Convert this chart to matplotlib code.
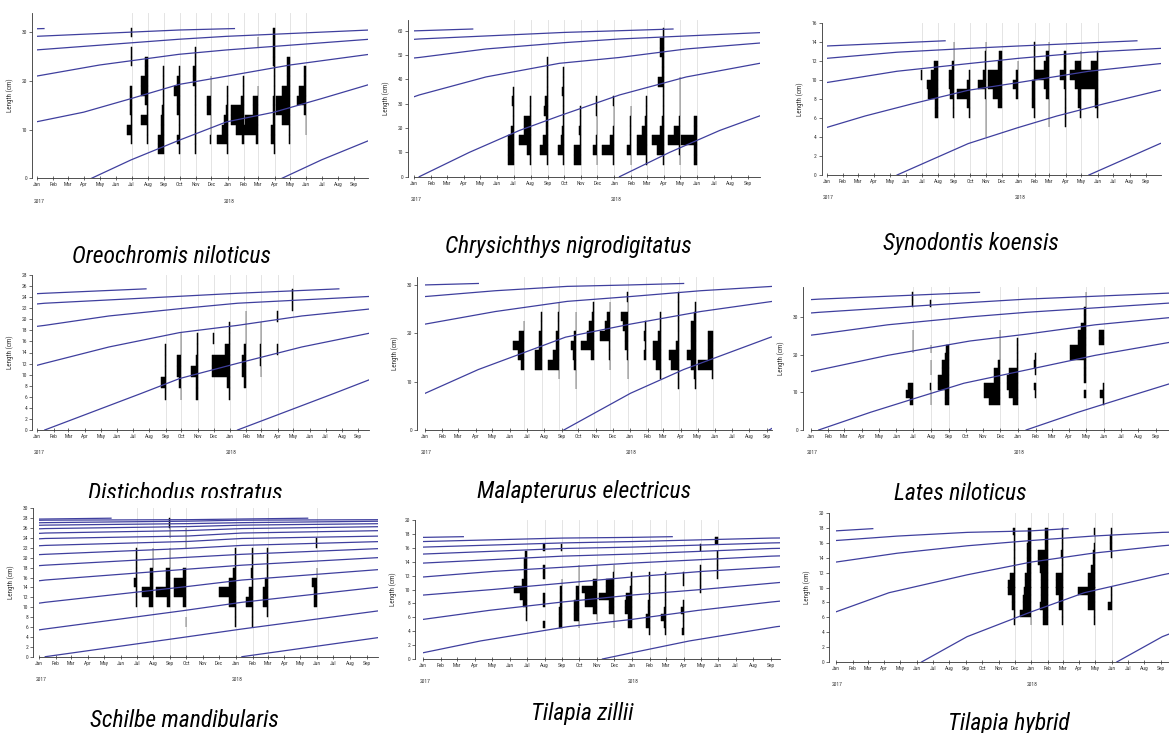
import numpy as np
import matplotlib
matplotlib.use("Agg")
import matplotlib.pyplot as plt
import matplotlib.dates as mdates
from matplotlib import font_manager
from matplotlib.patches import Rectangle

W, H = 1169, 733

# ---------------- Oreochromis niloticus ----------------
oreo_dates = ['2017-07-01', '2017-08-01', '2017-09-01', '2017-10-01', '2017-11-01', '2017-12-01',
              '2018-01-01', '2018-02-01', '2018-03-01', '2018-04-01', '2018-05-01', '2018-06-01']
oreo_mids = [6, 8, 10, 12, 14, 16, 18, 20, 22, 24, 26, 28, 30]
oreo_freq = [[0, 1, 8, 1, 3, 3, 3, 0, 0, 1, 1, 0, 1],
             [0, 1, 1, 14, 1, 6, 14, 14, 6, 6, 0, 0, 0],
             [12, 12, 6, 5, 3, 1, 1, 1, 1, 0, 0, 0, 0],
             [1, 5, 1, 1, 5, 5, 10, 5, 1, 0, 0, 0, 0],
             [1, 1, 1, 1, 1, 2, 2, 6, 6, 1, 1, 0, 0],
             [0, 3, 1, 1, 8, 8, 1, 1, 0, 0, 0, 0, 0],
             [1, 21, 11, 6, 3, 1, 1, 0, 0, 0, 0, 0, 0],
             [0, 3, 15, 24, 24, 5, 1, 1, 0, 0, 0, 0, 0],
             [0, 5, 27, 26, 10, 10, 1, 0, 0, 0, 0, 1, 0],
             [1, 6, 6, 3, 3, 3, 1, 1, 1, 3, 3, 3, 2],
             [0, 3, 3, 16, 27, 27, 16, 6, 6, 6, 0, 0, 0],
             [0, 0, 1, 1, 5, 17, 15, 5, 5, 0, 0, 0, 0]]
oreo_birth = '2017-04-15'
oreo_age = [0, 2.5, 5.5, 8.5, 11.5, 14.5, 17.5, 20.5, 24.5, 29.5, 32.5, 41.5, 44.5, 53.5, 57]
oreo_len = [0, 3.8, 7.8, 11.6, 13.6, 16.4, 19.3, 21.0, 23.3, 25.5, 26.4, 28.6, 29.2, 30.5, 30.8]
oreo_yticks = [0, 10, 20, 30]

# ---------------- Chrysichthys nigrodigitatus ----------------
chry_dates = ['2017-07-01', '2017-08-01', '2017-09-01', '2017-10-01', '2017-11-01', '2017-12-01',
              '2018-01-01', '2018-02-01', '2018-03-01', '2018-04-01', '2018-05-01', '2018-06-01']
chry_mids = [7, 11, 15, 19, 23, 27, 31, 35, 39, 43, 47, 51, 55, 59]
chry_freq = [[11, 11, 11, 4, 1, 1, 3, 1, 0, 0, 0, 0, 0, 0],
             [1, 6, 21, 12, 12, 1, 1, 0, 0, 0, 0, 0, 0, 0],
             [1, 13, 8, 3, 3, 7, 4, 1, 1, 1, 1, 0, 0, 0],
             [1, 11, 6, 3, 1, 1, 1, 3, 1, 1, 0, 0, 0, 0],
             [13, 13, 1, 3, 1, 1, 0, 0, 0, 0, 0, 0, 0, 0],
             [1, 9, 3, 1, 1, 3, 3, 0, 0, 0, 0, 0, 0, 0],
             [3, 23, 8, 3, 1, 1, 2, 0, 0, 0, 0, 0, 0, 0],
             [1, 9, 3, 3, 3, 1, 0, 0, 0, 0, 0, 0, 0, 0],
             [1, 17, 17, 8, 3, 1, 1, 0, 0, 0, 0, 0, 0, 0],
             [1, 13, 21, 7, 3, 1, 1, 1, 10, 4, 4, 7, 7, 1],
             [1, 3, 23, 11, 3, 1, 1, 1, 1, 0, 0, 0, 0, 0],
             [6, 6, 30, 6, 6, 0, 0, 0, 0, 0, 0, 0, 0, 0]]
chry_birth = '2017-01-10'
chry_age = [0, 3, 6, 8.4, 12, 16, 20.4, 24, 28, 32.7, 36, 44.7, 48, 51.2]
chry_len = [0, 10, 19, 25, 33.6, 41, 46.6, 49.0, 52.5, 55.1, 56.6, 59.3, 60.0, 60.7]
chry_yticks = [0, 10, 20, 30, 40, 50, 60]

# ---------------- Synodontis koensis ----------------
syno_dates = ['2017-07-01', '2017-08-01', '2017-09-01', '2017-10-01', '2017-11-01', '2017-12-01',
              '2018-01-01', '2018-02-01', '2018-03-01', '2018-04-01', '2018-05-01', '2018-06-01']
syno_mids = [4.5, 5.5, 6.5, 7.5, 8.5, 9.5, 10.5, 11.5, 12.5, 13.5]
syno_freq = [[0, 0, 0, 0, 0, 0, 1, 0, 0, 0],
             [0, 0, 5, 6, 19, 21, 13, 8, 0, 0],
             [0, 0, 2, 2, 8, 11, 11, 5, 1, 1],
             [0, 0, 2, 6, 25, 6, 2, 0, 0, 0],
             [1, 1, 1, 1, 3, 16, 6, 3, 3, 1],
             [0, 0, 0, 8, 18, 27, 27, 8, 5, 0],
             [0, 0, 0, 0, 5, 11, 5, 1, 0, 0],
             [0, 0, 1, 5, 5, 5, 1, 1, 1, 1],
             [0, 1, 1, 1, 6, 10, 27, 10, 6, 1],
             [0, 1, 1, 1, 1, 4, 11, 4, 4, 0],
             [0, 0, 3, 6, 6, 13, 22, 13, 1, 0],
             [0, 0, 1, 6, 6, 32, 32, 13, 1, 0]]
syno_birth = '2017-05-15'
syno_age = [0, 4.45, 7.55, 10, 13, 16.45, 19.55, 24, 28.45, 31.55, 36, 40.45, 43.55, 51]
syno_len = [0, 3.3, 4.97, 6.2, 7.5, 8.9, 9.7, 10.9, 11.7, 12.25, 12.9, 13.3, 13.55, 14.1]
syno_yticks = list(range(0, 17, 2))

# ---------------- Distichodus rostratus ----------------
dist_dates = ['2017-09-01', '2017-10-01', '2017-11-01', '2017-12-01', '2018-01-01',
              '2018-02-01', '2018-03-01', '2018-04-01', '2018-05-01']
dist_mids = [6.5, 8.5, 10.5, 12.5, 14.5, 16.5, 18.5, 20.5, 22.5, 24.5]
dist_freq = [[1, 8, 2, 2, 1, 0, 0, 0, 0, 0],
             [1, 5, 9, 9, 1, 1, 0, 0, 0, 0],
             [4, 4, 13, 3, 1, 1, 0, 0, 0, 0],
             [0, 0, 0, 0, 0, 1, 0, 0, 0, 0],
             [1, 6, 35, 35, 9, 1, 1, 0, 0, 0],
             [0, 4, 9, 9, 4, 1, 1, 1, 0, 0],
             [0, 0, 1, 3, 3, 1, 1, 0, 0, 0],
             [0, 0, 0, 0, 1, 0, 0, 1, 0, 0],
             [0, 0, 0, 0, 0, 0, 0, 0, 2, 2]]
dist_birth = '2017-01-15'
dist_age = [0, 3, 6, 8.4, 12, 16, 20.4, 24, 28, 32.7, 36, 44.7, 48, 54.3]
dist_len = [0, 3.3, 6.6, 9.3, 12.05, 15.0, 17.6, 18.9, 20.6, 22.0, 22.9, 24.2, 24.7, 25.5]
dist_yticks = list(range(0, 29, 2))

# ---------------- Malapterurus electricus ----------------
mala_dates = ['2017-06-27', '2017-07-28', '2017-08-28', '2017-09-27', '2017-10-28', '2017-11-27',
              '2017-12-29', '2018-01-29', '2018-02-25', '2018-03-29', '2018-04-28', '2018-05-29']
mala_mids = [9.5, 11.5, 13.5, 15.5, 17.5, 19.5, 21.5, 23.5, 25.5, 27.5]
mala_freq = [[0, 0, 7, 12, 21, 9, 1, 0, 0, 0],
             [0, 0, 12, 12, 6, 6, 1, 1, 0, 0],
             [0, 1, 21, 12, 6, 6, 2, 2, 1, 0],
             [1, 1, 3, 6, 9, 3, 1, 1, 0, 0],
             [0, 0, 0, 5, 22, 11, 8, 3, 1, 0],
             [0, 0, 1, 3, 3, 18, 9, 6, 1, 0],
             [0, 1, 1, 3, 6, 6, 9, 14, 1, 3],
             [0, 0, 0, 3, 1, 3, 1, 0, 0, 0],
             [0, 1, 9, 15, 15, 6, 1, 1, 0, 0],
             [1, 1, 15, 18, 6, 1, 1, 1, 1, 1],
             [1, 3, 9, 15, 9, 9, 9, 3, 1, 0],
             [0, 3, 28, 9, 9, 9, 0, 0, 0, 0]]
mala_birth = '2017-09-05'
mala_age = [0, 3.9, 7, 12.1, 15.9, 20, 24.2, 27.9, 32, 36.2, 39.9, 43]
mala_len = [0, 7.6, 12.5, 19.2, 21.9, 24.5, 26.6, 27.6, 28.8, 29.7, 30.0, 30.3]
mala_yticks = [0, 10, 20, 30]

# ---------------- Lates niloticus ----------------
lates_dates = ['2017-07-01', '2017-08-01', '2017-09-01', '2017-12-01',
               '2018-01-01', '2018-02-01', '2018-05-01', '2018-06-01']
lates_mids = [7.5, 9.5, 11.5, 13.5, 15.5, 17.5, 19.5, 21.5, 23.5, 25.5, 27.5, 29.5, 31.5, 33.5, 35.5]
lates_freq = [[7, 13, 10, 0, 0, 0, 0, 1, 1, 1, 0, 0, 0, 2, 2],
              [1, 1, 2, 0, 1, 1, 0, 1, 0, 0, 0, 0, 0, 2, 0],
              [7, 7, 19, 19, 12, 12, 7, 4, 0, 0, 0, 0, 0, 0, 0],
              [20, 28, 28, 11, 11, 5, 1, 1, 1, 1, 0, 0, 0, 0, 0],
              [9, 15, 20, 20, 15, 1, 1, 1, 1, 0, 0, 0, 0, 0, 0],
              [0, 1, 2, 0, 1, 2, 1, 0, 0, 0, 0, 0, 0, 0, 0],
              [0, 3, 0, 3, 3, 3, 28, 28, 15, 15, 9, 3, 3, 1, 1],
              [1, 7, 1, 0, 0, 0, 0, 0, 9, 9, 0, 0, 0, 0, 0]]
lates_birth = '2017-01-15'
lates_age = [0, 3, 6, 8.4, 12, 16, 20.75, 24, 28, 32.75, 36, 44.75, 48, 57.3]
lates_len = [0, 4.7, 9.0, 12.4, 15.9, 19.8, 23.6, 25.4, 27.9, 30.0, 31.2, 33.8, 34.7, 36.5]
lates_yticks = [0, 10, 20, 30]

# ---------------- Schilbe mandibularis ----------------
schi_dates = ['2017-07-01', '2017-08-01', '2017-09-01', '2017-10-01',
              '2018-01-01', '2018-02-01', '2018-03-01', '2018-06-01']
schi_mids = [7, 9, 11, 13, 15, 17, 19, 21, 23, 25, 27]
schi_freq = [[0, 0, 1, 1, 5, 1, 1, 1, 0, 0, 0],
             [0, 0, 8, 22, 6, 6, 1, 1, 0, 0, 0],
             [0, 0, 5, 27, 8, 8, 1, 1, 0, 1, 3],
             [1, 0, 6, 22, 22, 6, 0, 0, 1, 1, 0],
             [1, 1, 12, 32, 12, 6, 1, 1, 0, 0, 0],
             [1, 1, 12, 6, 1, 3, 1, 1, 0, 0, 0],
             [0, 1, 9, 9, 5, 1, 1, 1, 0, 0, 0],
             [0, 0, 6, 6, 9, 1, 0, 0, 2, 0, 0]]
schi_birth = '2017-01-12'
schi_age = [0, 8.4, 12, 20.4, 24, 32.7, 36, 44.7, 48, 56.7, 60, 68.7, 72, 80.7, 84, 92.7, 96,
            104.7, 108, 116.7, 120, 128.7, 132, 140.7, 144, 152.7, 160]
schi_len = [0, 3.9, 5.6, 9.3, 11.0, 14.2, 15.5, 17.7, 18.5, 20.1, 20.7, 21.9, 22.5, 23.3, 23.9, 24.4, 25.0,
            25.5, 25.9, 26.3, 26.6, 26.9, 27.1, 27.4, 27.6, 27.7, 28.0]
schi_yticks = list(range(0, 31, 2))

# ---------------- Tilapia zillii ----------------
tzil_dates = ['2017-07-01', '2017-08-01', '2017-09-01', '2017-10-01', '2017-11-01', '2017-12-01',
              '2018-01-01', '2018-02-01', '2018-03-01', '2018-04-01', '2018-05-01', '2018-06-01']
tzil_mids = [4, 5, 6, 7, 8, 9, 10, 11, 12, 13, 14, 15, 16, 17]
tzil_freq = [[0, 0, 1, 1, 6, 12, 23, 9, 5, 5, 5, 3, 0, 0],
             [0, 2, 0, 0, 2, 2, 0, 0, 2, 2, 0, 0, 3, 0],
             [0, 6, 6, 6, 4, 4, 4, 1, 0, 0, 0, 0, 3, 0],
             [0, 1, 9, 9, 9, 6, 6, 1, 1, 1, 0, 0, 0, 0],
             [0, 0, 1, 7, 22, 22, 27, 7, 1, 1, 0, 0, 0, 0],
             [0, 1, 1, 9, 9, 26, 15, 15, 3, 1, 0, 0, 0, 0],
             [0, 7, 7, 13, 13, 10, 3, 1, 1, 0, 0, 0, 0, 0],
             [1, 6, 6, 3, 3, 1, 1, 1, 1, 0, 0, 0, 0, 0],
             [1, 3, 9, 3, 1, 1, 1, 1, 1, 0, 0, 0, 0, 0],
             [2, 1, 1, 4, 1, 0, 0, 1, 1, 0, 0, 0, 0, 0],
             [0, 0, 0, 0, 0, 0, 1, 1, 2, 2, 0, 0, 1, 0],
             [0, 0, 0, 0, 0, 0, 0, 0, 2, 2, 2, 2, 0, 6]]
tzil_birth = '2016-11-10'
tzil_age = [0, 1.7, 5, 10, 13.7, 17.5, 21.7, 25.7, 29.7, 33.7, 37.7, 41.7, 45.7, 49.7, 57.7,
            61.7, 69.7, 73.7, 81.7, 85.7, 93.7, 97.7, 100]
tzil_len = [0, 0.9, 2.6, 4.65, 5.7, 7.0, 8.2, 9.2, 10.0, 10.9, 11.8, 12.6, 13.2, 13.8, 14.8,
            15.1, 15.9, 16.1, 16.7, 16.9, 17.4, 17.5, 17.6]
tzil_yticks = list(range(0, 21, 2))

# ---------------- Tilapia hybrid ----------------
thyb_dates = ['2017-12-01', '2018-01-01', '2018-02-01', '2018-03-01', '2018-05-01', '2018-06-01']
thyb_mids = [5.5, 6.5, 7.5, 8.5, 9.5, 10.5, 11.5, 12.5, 13.5, 14.5, 15.5, 16.5, 17.5]
thyb_freq = [[1, 1, 5, 5, 13, 13, 8, 1, 1, 1, 1, 1, 3],
             [1, 20, 15, 15, 13, 11, 11, 8, 8, 8, 8, 5, 5],
             [8, 8, 15, 12, 12, 12, 12, 15, 19, 19, 5, 5, 5],
             [1, 1, 6, 6, 13, 13, 13, 1, 1, 3, 1, 1, 1],
             [2, 2, 14, 14, 32, 14, 14, 8, 5, 5, 3, 1, 3],
             [0, 0, 7, 1, 1, 0, 0, 0, 0, 1, 3, 3, 1]]
thyb_birth = '2017-06-10'
thyb_age = [0, 2.8, 6.7, 10, 14.8, 18.7, 22.5, 26.8, 30.7, 34.5, 38.8, 42.7, 45]
thyb_len = [0, 3.4, 6.7, 9.3, 11.7, 13.4, 14.6, 15.6, 16.3, 16.9, 17.4, 17.6, 17.9]
thyb_yticks = list(range(0, 21, 2))

species = ['Oreochromis niloticus', 'Chrysichthys nigrodigitatus', 'Synodontis koensis',
           'Distichodus rostratus', 'Malapterurus electricus', 'Lates niloticus',
           'Schilbe mandibularis', 'Tilapia zillii', 'Tilapia hybrid']

panels = [
    (oreo_dates, oreo_mids, oreo_freq, oreo_birth, oreo_age, oreo_len, oreo_yticks),
    (chry_dates, chry_mids, chry_freq, chry_birth, chry_age, chry_len, chry_yticks),
    (syno_dates, syno_mids, syno_freq, syno_birth, syno_age, syno_len, syno_yticks),
    (dist_dates, dist_mids, dist_freq, dist_birth, dist_age, dist_len, dist_yticks),
    (mala_dates, mala_mids, mala_freq, mala_birth, mala_age, mala_len, mala_yticks),
    (lates_dates, lates_mids, lates_freq, lates_birth, lates_age, lates_len, lates_yticks),
    (schi_dates, schi_mids, schi_freq, schi_birth, schi_age, schi_len, schi_yticks),
    (tzil_dates, tzil_mids, tzil_freq, tzil_birth, tzil_age, tzil_len, tzil_yticks),
    (thyb_dates, thyb_mids, thyb_freq, thyb_birth, thyb_age, thyb_len, thyb_yticks),
]

# pixel frames: y-axis x, Jan-2017 x, Sep-2018 x, axis end x, y of zero, y of top, top value
frames = [
    (32, 37.3, 354.3, 368, 178.3, 13, 34),
    (408, 414.3, 747.7, 760, 176.7, 20, 64.4),
    (821.7, 826.7, 1146, 1160.7, 175, 22.7, 16),
    (32.3, 37.3, 358.3, 369.3, 430, 275, 28),
    (417.3, 425, 766.7, 772, 430, 276.7, 31.7),
    (803.3, 810.7, 1156, 1171, 430, 286.7, 38),
    (33.3, 39.3, 366.7, 377.7, 656.7, 508.3, 30),
    (415, 423.3, 771, 780, 659, 520, 20),
    (829, 836, 1161, 1177, 662, 513, 20),
]

# caption centre x and baseline y (pixels)
captions = [(172, 263), (568, 253), (971, 250),
            (185, 500), (584, 498), (960, 500),
            (184, 727), (582, 720), (1009, 730)]

names = {f.name for f in font_manager.fontManager.ttflist}
cap_font, cap_size = 'Liberation Sans', 14
for fam, size in [('Liberation Sans Narrow', 17), ('Roboto Condensed', 17),
                  ('DejaVu Sans Condensed', 14.5)]:
    if fam in names:
        cap_font, cap_size = fam, size
        break
plt.rcParams['font.family'] = [cap_font, 'DejaVu Sans']

curve_c = '#3f3f9e'
t0 = mdates.datestr2num('2017-01-01')
t_sep = mdates.datestr2num('2018-09-01')
month_ticks = [mdates.datestr2num('%d-%02d-01' % (2017 + (m // 12), m % 12 + 1)) for m in range(21)]

fig = plt.figure(figsize=(W / 100, H / 100), dpi=100)

for (dates, mids, freq, birth, age, length, yticks), (xa, xj, xs, xe, y0, yt, ltop) in zip(panels, frames):
    dpx = (xs - xj) / (t_sep - t0)
    xl = t0 - (xj - xa) / dpx
    xr = t0 + (xe - xj) / dpx
    ax = fig.add_axes([xa / W, 1 - y0 / H, (xe - xa) / W, (y0 - yt) / H])
    ax.set_xlim(xl, xr)
    ax.set_ylim(0, ltop)
    ax.patch.set_alpha(0)

    cw = mids[1] - mids[0]
    for d, row in zip(dates, freq):
        dn = mdates.datestr2num(d)
        ax.axvline(dn, color='#e4e4e4', lw=0.7, zorder=0)
        for m, f in zip(mids, row):
            if f > 0:
                ax.barh(m, -f, left=dn, height=cw, color='black', edgecolor='black',
                        lw=0.35, zorder=2)

    clip = Rectangle((t0, 0), xr - t0, ltop, transform=ax.transData)
    b = mdates.datestr2num(birth)
    for k in range(-1, 15):
        xs_c = b - k * 365.25 + np.array(age) * 30.44
        if xs_c[0] > xr or xs_c[-1] < t0:
            continue
        ln, = ax.plot(xs_c, length, color=curve_c, lw=0.9, zorder=3)
        ln.set_clip_path(clip)

    for s in ['top', 'right']:
        ax.spines[s].set_visible(False)
    ax.spines['left'].set_bounds(0, ltop)
    ax.spines['bottom'].set_bounds(t0, xr)
    for s in ['left', 'bottom']:
        ax.spines[s].set_linewidth(0.6)
        ax.spines[s].set_color('#333333')

    ax.set_xticks(month_ticks)
    ax.xaxis.set_major_formatter(mdates.DateFormatter('%b'))
    ax.set_yticks(yticks)
    ax.tick_params(axis='x', labelsize=4, length=3, width=0.5, direction='inout', pad=1.5,
                   colors='#333333')
    ax.tick_params(axis='y', labelsize=4, length=2, width=0.5, direction='out', pad=1.5,
                   colors='#333333')
    for yr, tx in [('2017', t0), ('2018', mdates.datestr2num('2018-01-01'))]:
        ax.annotate(yr, xy=(tx, 0), xycoords=('data', 'axes fraction'), xytext=(1, -16.5),
                    textcoords='offset points', ha='center', va='center', fontsize=4,
                    color='#333333')
    ax.set_ylabel('Length (cm)', fontsize=5, color='#333333')
    ax.yaxis.set_label_coords(-18 / (xe - xa), 0.5)

for name, (cx, by) in zip(species, captions):
    fig.text(cx / W, 1 - by / H, name, ha='center', va='baseline', fontsize=cap_size,
             style='italic', family=[cap_font, 'DejaVu Sans'], zorder=1)

# the third-row picture overlaps the foot of the second-row caption on the left
fig.patches.append(Rectangle((0, 1 - 506 / H), 390 / W, 8.5 / H, transform=fig.transFigure,
                             facecolor='white', edgecolor='none', zorder=5))

fig.savefig('out.png', dpi=100)
